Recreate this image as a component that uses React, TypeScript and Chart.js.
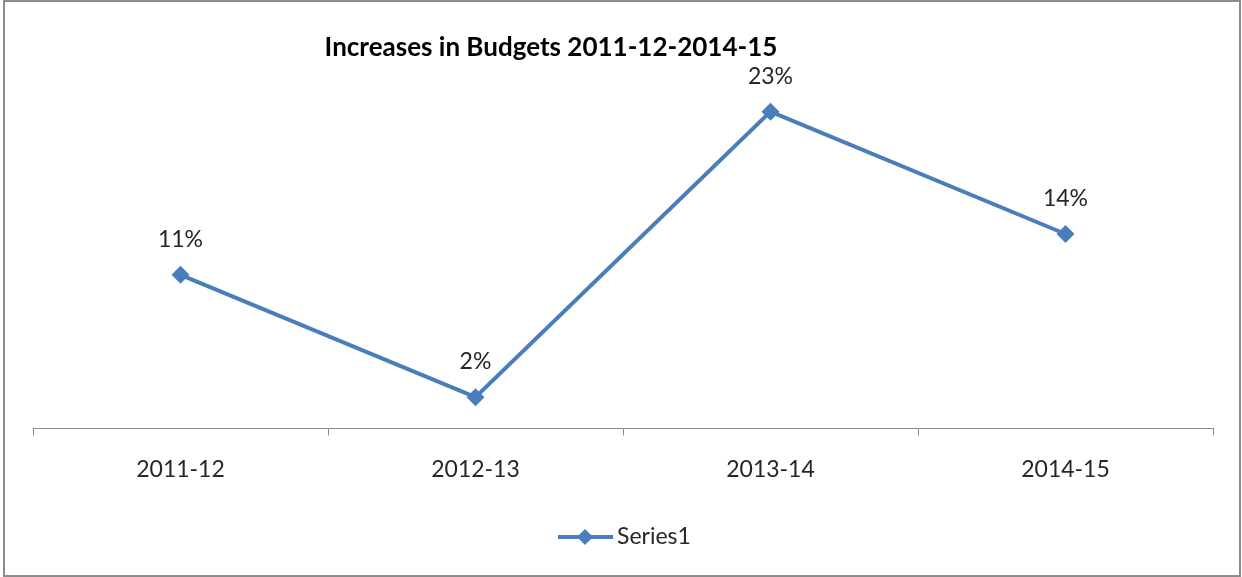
import { useEffect, useRef } from "react";
import { Chart, registerables } from "chart.js";

Chart.register(...registerables);

const categories = ["2011-12", "2012-13", "2013-14", "2014-15"];
const seriesName = "Series1";
const values = [0.11, 0.02, 0.23, 0.14];
const titleText = "Increases in Budgets 2011-12-2014-15";

const FONT = "Lato, 'Open Sans', sans-serif";
const BLUE = "#4a7ebb";
const TEXT = "#262626";

const decoPlugin = {
  id: "deco",
  afterDraw(chart: any) {
    const ctx = chart.ctx as CanvasRenderingContext2D;
    ctx.save();
    // outer border
    ctx.strokeStyle = "#8c8c8c";
    ctx.lineWidth = 2;
    ctx.strokeRect(4, 1, 1236, 575);

    // title
    ctx.font = `bold 26px ${FONT}`;
    ctx.fillStyle = "#000";
    ctx.textAlign = "center";
    ctx.textBaseline = "alphabetic";
    ctx.fillText(titleText, 551, 56);

    // data labels
    const meta = chart.getDatasetMeta(0);
    ctx.font = `23px ${FONT}`;
    ctx.fillStyle = TEXT;
    meta.data.forEach((pt: any, i: number) => {
      ctx.fillText(Math.round(values[i] * 100) + "%", pt.x, pt.y - 28);
    });

    // legend
    const ly = 537;
    ctx.strokeStyle = BLUE;
    ctx.lineWidth = 4;
    ctx.beginPath();
    ctx.moveTo(558, ly);
    ctx.lineTo(613, ly);
    ctx.stroke();
    ctx.fillStyle = BLUE;
    ctx.beginPath();
    const r = 8;
    ctx.moveTo(585 - r, ly);
    ctx.lineTo(585, ly - r);
    ctx.lineTo(585 + r, ly);
    ctx.lineTo(585, ly + r);
    ctx.closePath();
    ctx.fill();
    ctx.fillStyle = TEXT;
    ctx.font = `23px ${FONT}`;
    ctx.textAlign = "left";
    ctx.textBaseline = "middle";
    ctx.fillText(seriesName, 617, ly);
    ctx.restore();
  },
};

export default function App() {
  const ref = useRef<HTMLCanvasElement>(null);
  useEffect(() => {
    if (!ref.current) return;
    const chart = new Chart(ref.current, {
      type: "line",
      data: {
        labels: categories,
        datasets: [
          {
            label: seriesName,
            data: values,
            borderColor: BLUE,
            backgroundColor: BLUE,
            borderWidth: 4,
            pointStyle: "rectRot",
            pointRadius: 9,
            pointBackgroundColor: BLUE,
            pointBorderColor: BLUE,
            pointBorderWidth: 0,
            tension: 0,
            clip: false as any,
          },
        ],
      },
      options: {
        responsive: false,
        animation: false,
        layout: { padding: { left: 33, right: 29, top: 60, bottom: 74 } },
        plugins: {
          legend: { display: false },
          title: { display: false },
          tooltip: { enabled: false },
        },
        scales: {
          x: {
            offset: true,
            grid: {
              offset: true,
              drawOnChartArea: false,
              drawTicks: true,
              tickLength: 7,
              color: "#8c8c8c",
            },
            border: { display: true, color: "#8c8c8c", width: 1 },
            ticks: {
              padding: 20,
              color: TEXT,
              font: { family: FONT, size: 23 },
              maxRotation: 0,
            },
          },
          y: {
            display: false,
            min: -0.003,
            max: 0.268,
          },
        },
      },
      plugins: [decoPlugin],
    });
    return () => chart.destroy();
  }, []);
  return (
    <div style={{ position: "fixed", left: 0, top: 0, width: 1242, height: 577, background: "#fff" }}>
      <canvas ref={ref} width={1242} height={577} style={{ display: "block" }} />
    </div>
  );
}
